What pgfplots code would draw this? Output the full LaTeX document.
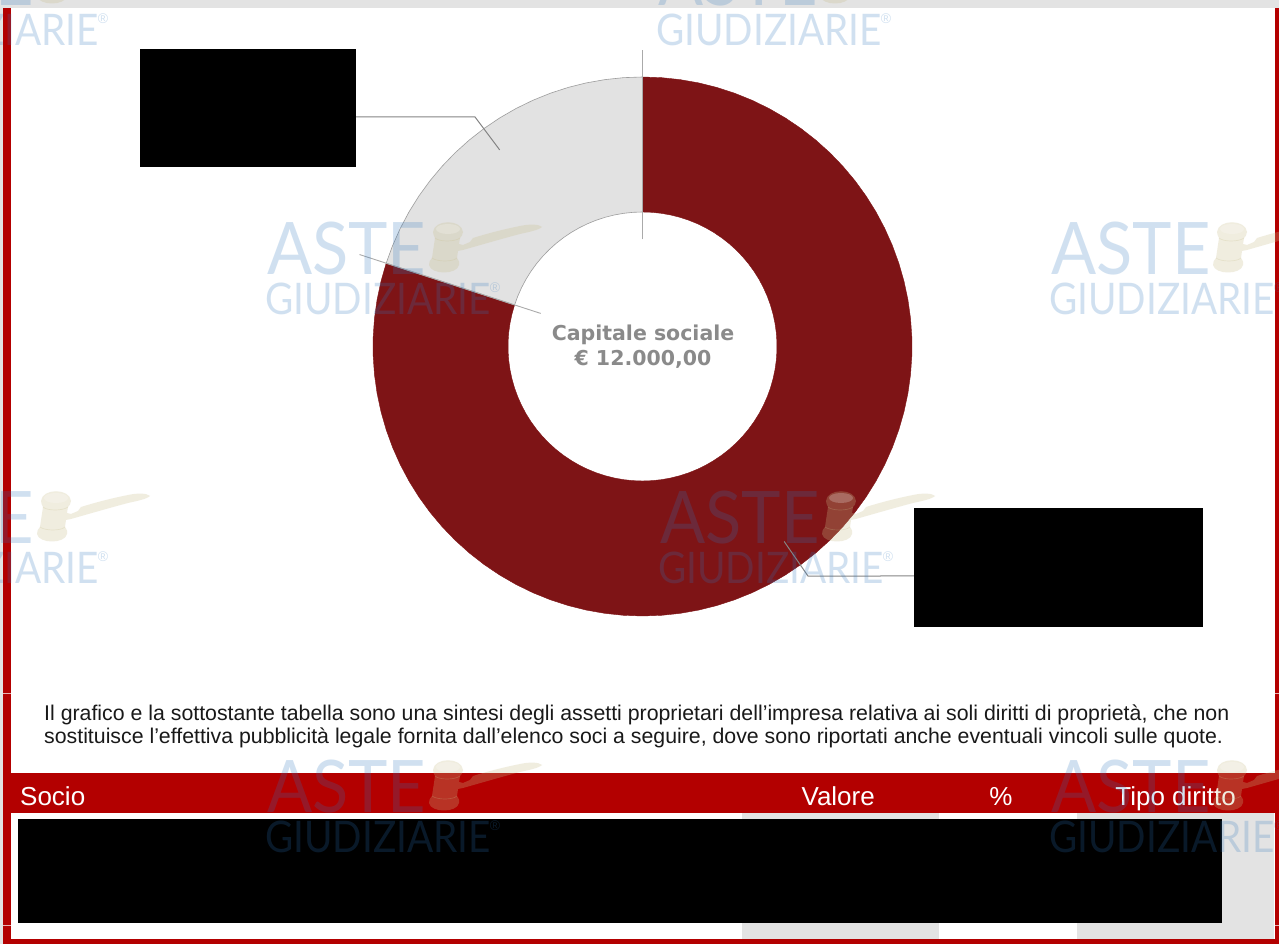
\documentclass[border=0pt]{standalone}
\usepackage{pgfplots}
\pgfplotsset{compat=1.18}
\usepgfplotslibrary{polar}
\usepackage{fontspec}
\setmainfont{Liberation Sans}
\newfontfamily\dejavu{DejaVu Sans}
\newfontfamily\stampfont{Lato}
\definecolor{bandred}{HTML}{B30000}
\definecolor{sliceRed}{HTML}{7E1416}
\definecolor{sliceGrey}{HTML}{E2E2E2}
\definecolor{pagegrey}{HTML}{E3E3E3}
\definecolor{leader}{HTML}{858585}
\definecolor{markblue}{HTML}{2D76BE}
\definecolor{markbeige}{HTML}{C8BE8C}
% Repeated logo stamp: origin is the left end of the ASTE baseline
\newcommand{\stamp}[2]{%
  \begin{scope}[shift={(#1,#2)}]
    \node[anchor=base west,inner sep=0pt,text=markblue,text opacity=.22,font=\stampfont] at (0,0)
      {\fontsize{72.5}{72}\selectfont\scalebox{.92}[1]{ASTE}};
    \node[anchor=base west,inner sep=0pt,text=markblue,text opacity=.22,font=\stampfont] at (-2,40)
      {\fontsize{43.5}{44}\selectfont\scalebox{.89}[1]{GIUDIZIARIE}};
    \node[inner sep=0pt,text=markblue,text opacity=.22] at (228,13)
      {\fontsize{14}{14}\selectfont ®};
    \fill[markbeige,fill opacity=.27]
      (166,-43) .. controls (167,-56) and (195,-56) .. (196,-43)
      .. controls (196,-40) and (194,-38) .. (193,-37)
      -- (192,-31) -- (196,-30) -- (203,-33) -- (206,-37)
      .. controls (222,-42) and (238,-46) .. (253,-49)
      .. controls (262,-51) and (272,-51) .. (275,-48)
      .. controls (272,-45) and (262,-43) .. (253,-41)
      .. controls (238,-37) and (224,-33) .. (210,-29)
      -- (196,-25) -- (191,-24) -- (190,-17)
      .. controls (192,-14) and (193,-12) .. (192,-10)
      .. controls (190,0) and (164,0) .. (162,-10)
      .. controls (162,-13) and (163,-15) .. (165,-17)
      -- (168,-37) .. controls (167,-39) and (166,-41) .. (166,-43) -- cycle;
    % highlight on the cap and the turned bands of the head
    \fill[white,fill opacity=.22] (181,-46) ellipse [x radius=12,y radius=5];
    \draw[markbeige,draw opacity=.25,line width=.7pt]
      (168,-37) .. controls (172,-33) and (188,-33) .. (193,-37)
      (165,-17) .. controls (170,-13) and (186,-13) .. (190,-17);
  \end{scope}%
}
\begin{document}
\begin{tikzpicture}[x=1pt,y=1pt]
\path[use as bounding box] (0,0) rectangle (1279,944);
\begin{scope}[x=1pt,y=-1pt,yshift=944pt]
  % page and table frame
  \fill[white] (0,0) rectangle (1279,944);
  \fill[pagegrey] (0,0) rectangle (1279,8);
  \fill[pagegrey] (0,0) rectangle (3,944);
  \fill[bandred] (3,8) rectangle (11,944);
  \fill[bandred] (1275,8) rectangle (1279,944);
  \fill[bandred] (3,939) rectangle (1279,944);
  \fill[bandred] (3,773) rectangle (1279,813);
  \fill[pagegrey] (742,813) rectangle (939,939);
  \fill[pagegrey] (1077,813) rectangle (1274,939);
  \fill[white!70!bandred] (3,925) rectangle (11,925.7);
  \fill[white!70!bandred] (1275,925) rectangle (1279,925.7);
  \fill[white!70!bandred] (3,693) rectangle (11,693.7);
  \fill[white!70!bandred] (1275,693) rectangle (1279,693.7);
\end{scope}

% ownership ring: 80 % and 20 % of the share capital
\begin{polaraxis}[
    at={(642.5pt,597.5pt)},anchor=center,
    scale only axis,width=600pt,height=600pt,
    xmin=0,xmax=360,ymin=0,ymax=300,
    hide axis,clip=false]
  \addplot[draw=sliceRed,line width=.4pt,fill=sliceRed,mark=none] coordinates {
    (162,269.5)(166,269.5)(170,269.5)(174,269.5)(178,269.5)(182,269.5)(186,269.5)(190,269.5)(194,269.5)(198,269.5)
    (202,269.5)(206,269.5)(210,269.5)(214,269.5)(218,269.5)(222,269.5)(226,269.5)(230,269.5)(234,269.5)(238,269.5)
    (242,269.5)(246,269.5)(250,269.5)(254,269.5)(258,269.5)(262,269.5)(266,269.5)(270,269.5)(274,269.5)(278,269.5)
    (282,269.5)(286,269.5)(290,269.5)(294,269.5)(298,269.5)(302,269.5)(306,269.5)(310,269.5)(314,269.5)(318,269.5)
    (322,269.5)(326,269.5)(330,269.5)(334,269.5)(338,269.5)(342,269.5)(346,269.5)(350,269.5)(354,269.5)(358,269.5)
    (362,269.5)(366,269.5)(370,269.5)(374,269.5)(378,269.5)(382,269.5)(386,269.5)(390,269.5)(394,269.5)(398,269.5)
    (402,269.5)(406,269.5)(410,269.5)(414,269.5)(418,269.5)(422,269.5)(426,269.5)(430,269.5)(434,269.5)(438,269.5)
    (442,269.5)(446,269.5)(450,269.5)
    (450,134.5)(446,134.5)(442,134.5)(438,134.5)(434,134.5)(430,134.5)(426,134.5)(422,134.5)(418,134.5)(414,134.5)
    (410,134.5)(406,134.5)(402,134.5)(398,134.5)(394,134.5)(390,134.5)(386,134.5)(382,134.5)(378,134.5)(374,134.5)
    (370,134.5)(366,134.5)(362,134.5)(358,134.5)(354,134.5)(350,134.5)(346,134.5)(342,134.5)(338,134.5)(334,134.5)
    (330,134.5)(326,134.5)(322,134.5)(318,134.5)(314,134.5)(310,134.5)(306,134.5)(302,134.5)(298,134.5)(294,134.5)
    (290,134.5)(286,134.5)(282,134.5)(278,134.5)(274,134.5)(270,134.5)(266,134.5)(262,134.5)(258,134.5)(254,134.5)
    (250,134.5)(246,134.5)(242,134.5)(238,134.5)(234,134.5)(230,134.5)(226,134.5)(222,134.5)(218,134.5)(214,134.5)
    (210,134.5)(206,134.5)(202,134.5)(198,134.5)(194,134.5)(190,134.5)(186,134.5)(182,134.5)(178,134.5)(174,134.5)
    (170,134.5)(166,134.5)(162,134.5)
  } --cycle;
  \addplot[draw=leader!80,line width=.6pt,fill=sliceGrey,mark=none] coordinates {
    (90,269.5)(94,269.5)(98,269.5)(102,269.5)(106,269.5)(110,269.5)(114,269.5)(118,269.5)(122,269.5)(126,269.5)
    (130,269.5)(134,269.5)(138,269.5)(142,269.5)(146,269.5)(150,269.5)(154,269.5)(158,269.5)(162,269.5)
    (162,134.5)(158,134.5)(154,134.5)(150,134.5)(146,134.5)(142,134.5)(138,134.5)(134,134.5)(130,134.5)(126,134.5)
    (122,134.5)(118,134.5)(114,134.5)(110,134.5)(106,134.5)(102,134.5)(98,134.5)(94,134.5)(90,134.5)
  } --cycle;
  % slice boundaries
  \addplot[draw=leader!70,line width=.9pt,mark=none] coordinates {(90,107)(90,296)};
  \addplot[draw=leader!70,line width=.9pt,mark=none] coordinates {(162,107)(162,297.5)};
  % leaders towards the slice labels
  \addplot[draw=leader,line width=1pt,mark=none] coordinates {(126,243)(126.12,284.13)(141.30,367.09)};
  \addplot[draw=leader,line width=1pt,mark=none] coordinates {(-54,241)(-54.21,282.95)(-40.21,355.5)};
\end{polaraxis}

\begin{scope}[x=1pt,y=-1pt,yshift=944pt]
  % withheld label boxes and table body
  \fill[black] (140,49) rectangle (356,167);
  \fill[black] (914,508) rectangle (1203,627);
  \fill[black] (18,819) rectangle (1222,923);

  \node[text=black!46,align=center,inner sep=0pt,font=\dejavu\bfseries\fontsize{20.5}{25}\selectfont] at (643,347)
    {Capitale sociale\\[0pt]€ 12.000,00};

  \node[anchor=base west,inner sep=0pt,font=\fontsize{21.3}{22}\selectfont,text=black!90] at (44,721)
    {Il grafico e la sottostante tabella sono una sintesi degli assetti proprietari dell’impresa relativa ai soli diritti di proprietà, che non};
  \node[anchor=base west,inner sep=0pt,font=\fontsize{21.3}{22}\selectfont,text=black!90] at (44,744)
    {sostituisce l’effettiva pubblicità legale fornita dall’elenco soci a seguire, dove sono riportati anche eventuali vincoli sulle quote.};

  \node[anchor=base west,inner sep=0pt,text=white,font=\fontsize{26}{26}\selectfont] at (20,806) {Socio};
  \node[anchor=base east,inner sep=0pt,text=white,font=\fontsize{26}{26}\selectfont] at (875,806) {Valore};
  \node[anchor=base,inner sep=0pt,text=white,font=\fontsize{26}{26}\selectfont] at (1001,806) {\%};
  \node[anchor=base east,inner sep=0pt,text=white,font=\fontsize{26}{26}\selectfont] at (1236,806) {Tipo diritto};

  % logo stamps over the whole page
  \stamp{-125}{6}
  \stamp{658}{6}
  \stamp{267}{275}
  \stamp{1051}{275}
  \stamp{-125}{544}
  \stamp{660}{544}
  \stamp{267}{813}
  \stamp{1051}{813}
\end{scope}
\end{tikzpicture}
\end{document}
